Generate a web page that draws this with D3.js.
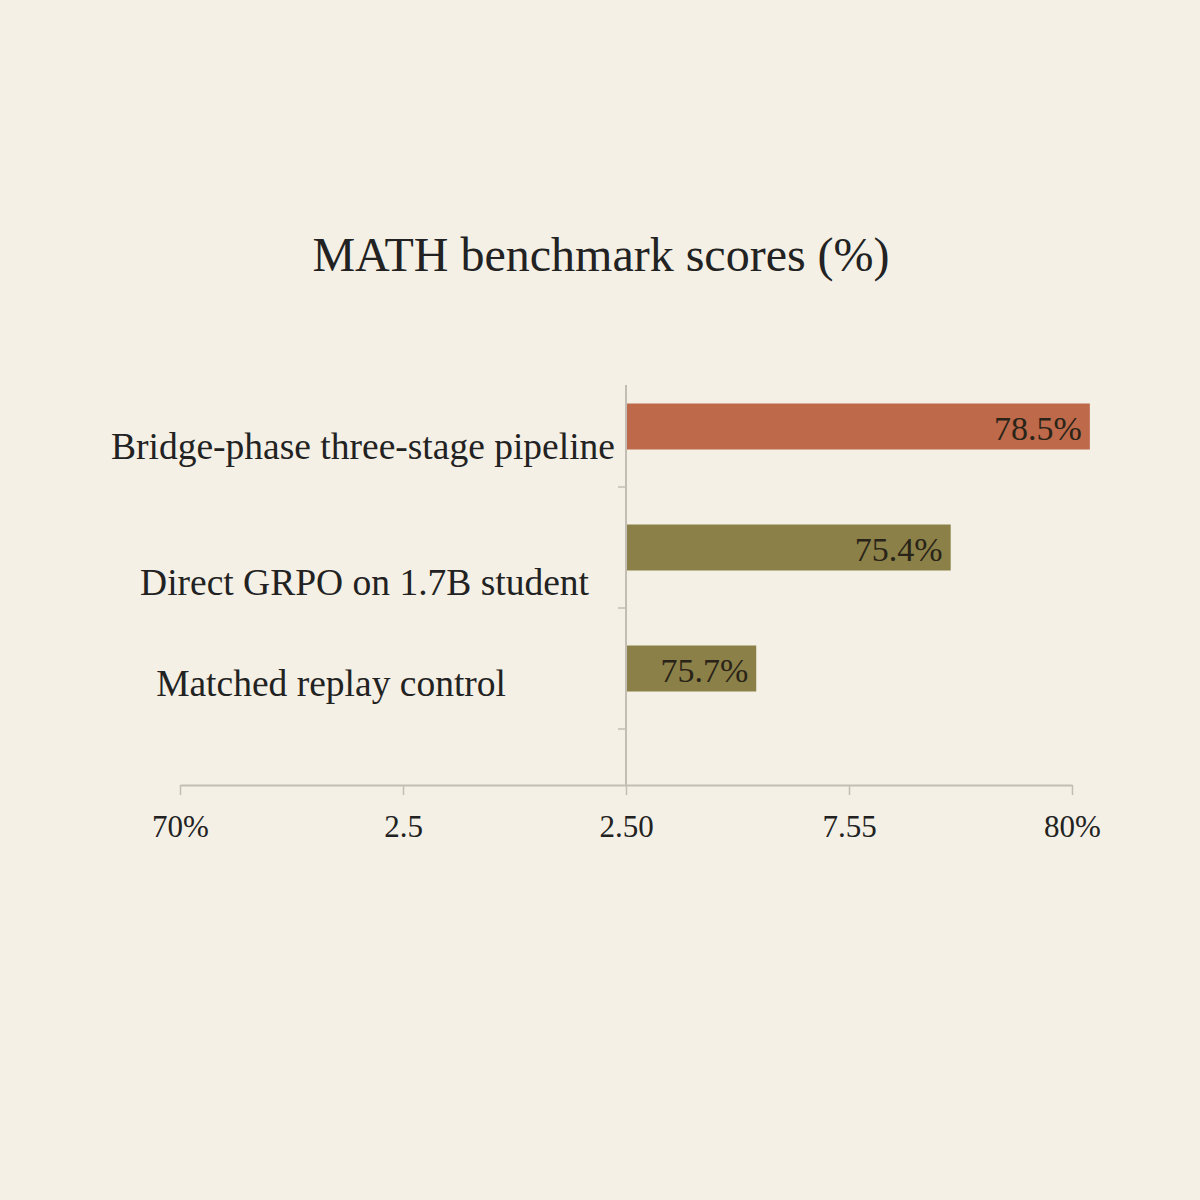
<!DOCTYPE html>
<html><head><meta charset="utf-8">
<script src="https://cdn.jsdelivr.net/npm/d3@7"></script>
<style>html,body{margin:0;padding:0;background:#F4F0E5;}svg{display:block;}</style>
</head><body>
<svg id="chart" width="1200" height="1200"></svg>
<script>
// ---- data ----
const categories = ["Bridge-phase three-stage pipeline", "Direct GRPO on 1.7B student", "Matched replay control"];
const barValues = [80.2, 78.64, 76.46];          // bar end as drawn (baseline 75)
const valueLabels = ["78.5%", "75.4%", "75.7%"];
const barColors = ["#BD694A", "#8A8048", "#8A8048"];
const tickValues = [70, 72.5, 75, 77.5, 80];
const tickLabels = ["70%", "2.5", "2.50", "7.55", "80%"];
const baseline = 75;
const title = "MATH benchmark scores (%)";

// ---- layout (not data) ----
const labelRight = [615, 589, 506];
const labelBaselineDy = [32.5, 47.5, 27.5];

const svg = d3.select("#chart");
const serif = "'Liberation Serif', 'DejaVu Serif', serif";
svg.append("rect").attr("width",1200).attr("height",1200).attr("fill","#F4F0E5");

const x = d3.scaleLinear().domain([70, 80]).range([180, 1072]);
const y = d3.scaleBand().domain(categories).range([366, 729]).padding(0);
const barH = 46;
const axisColor = "#C2BEB5";

svg.append("text").attr("x", 601).attr("y", 271).attr("text-anchor","middle")
  .attr("font-family", serif).attr("font-size", 48).attr("fill","#222")
  .text(title);

// x axis
const xAxis = svg.append("g").attr("transform","translate(0,785)")
  .call(d3.axisBottom(x).tickValues(tickValues).tickSize(10).tickSizeOuter(0)
    .tickFormat((d,i)=>tickLabels[i]));
xAxis.select(".domain").attr("stroke", axisColor).attr("stroke-width", 2);
xAxis.selectAll(".tick line").attr("stroke", axisColor).attr("stroke-width", 1.5);
xAxis.selectAll(".tick text").attr("font-family", serif).attr("font-size", 31)
  .attr("fill","#222").attr("y", 4).attr("dy", "1.55em");

// y axis ticks at band boundaries
const yAxis = svg.append("g").attr("transform", `translate(${x(baseline)},0)`)
  .call(d3.axisLeft(y).tickSize(8).tickSizeOuter(0).tickFormat(""));
yAxis.select(".domain").remove();
yAxis.selectAll(".tick").attr("transform", d => `translate(0,${y(d)+y.bandwidth()})`);
yAxis.selectAll(".tick line").attr("stroke", axisColor).attr("stroke-width", 1.5);
svg.append("line").attr("x1", x(baseline)).attr("x2", x(baseline))
  .attr("y1", 385).attr("y2", 785).attr("stroke", axisColor).attr("stroke-width", 2);

// bars
svg.selectAll("rect.bar").data(categories).join("rect").attr("class","bar")
  .attr("x", x(baseline)+1)
  .attr("y", d => y(d) + (y.bandwidth()-barH)/2)
  .attr("width", (d,i) => x(barValues[i]) - x(baseline) - 1)
  .attr("height", barH)
  .attr("fill", (d,i) => barColors[i]);

// value labels
svg.selectAll("text.val").data(categories).join("text").attr("class","val")
  .attr("x", (d,i) => x(barValues[i]) - 8)
  .attr("y", d => y(d) + y.bandwidth()/2 + 13)
  .attr("text-anchor","end").attr("font-family", serif).attr("font-size", 34)
  .attr("fill","#2a2418")
  .text((d,i)=>valueLabels[i]);

// category labels
svg.selectAll("text.cat").data(categories).join("text").attr("class","cat")
  .attr("x", (d,i) => labelRight[i])
  .attr("y", (d,i) => y(d) + y.bandwidth()/2 + labelBaselineDy[i])
  .attr("text-anchor","end").attr("font-family", serif).attr("font-size", 37.5)
  .attr("fill","#222")
  .text(d=>d);
</script>
</body></html>
